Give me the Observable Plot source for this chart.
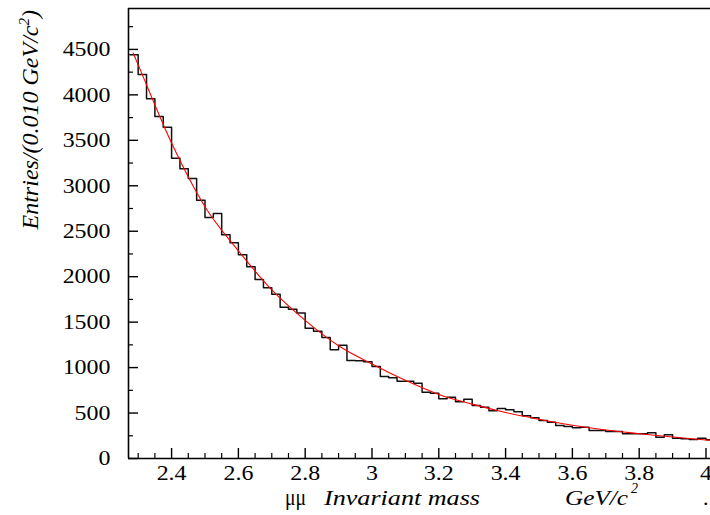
<!DOCTYPE html>
<html><head><meta charset="utf-8">
<script src="https://cdn.jsdelivr.net/npm/d3@7"></script>
<script src="https://cdn.jsdelivr.net/npm/@observablehq/plot@0.6"></script>
<style>
html,body{margin:0;padding:0;background:#fff;overflow:hidden;}
</style></head><body><div id="chart"></div>
<script>
// histogram bin edges (GeV/c^2)
const binEdges = [2.275,2.3,2.325,2.35,2.375,2.4,2.425,2.45,2.475,2.5,2.525,2.55,2.575,2.6,2.625,2.65,2.675,2.7,2.725,2.75,2.775,2.8,2.825,2.85,2.875,2.9,2.925,2.95,2.975,3.0,3.025,3.05,3.075,3.1,3.125,3.15,3.175,3.2,3.225,3.25,3.275,3.3,3.325,3.35,3.375,3.4,3.425,3.45,3.475,3.5,3.525,3.55,3.575,3.6,3.625,3.65,3.675,3.7,3.725,3.75,3.775,3.8,3.825,3.85,3.875,3.9,3.925,3.95,3.975,4.0,4.025];
// entries per bin
const counts = [4440,4224,3957,3762,3645,3304,3187,3080,2842,2651,2695,2462,2372,2240,2108,1969,1877,1808,1665,1643,1600,1434,1401,1330,1195,1247,1078,1074,1063,1012,902,887,851,851,829,730,719,656,675,623,653,583,565,524,550,535,513,470,447,418,400,363,352,337,345,308,308,297,297,271,271,271,282,235,260,224,216,209,224,205];
// fitted curve
const fitX = [2.285,2.3,2.4,2.5,2.6,2.7,2.8,2.9,3.0,3.1,3.2,3.3,3.4,3.5,3.6,3.7,3.8,3.9,4.0,4.0135];
const fitY = [4460,4330,3470,2770,2285,1855,1520,1240,1040,860,705,598,506,432,365,313,273,236,204,200];
// axes
const xDomain = [2.271, 4.0135];
const yDomain = [0, 4950];
const xMajor = [2.4,2.6,2.8,3.0,3.2,3.4,3.6,3.8,4.0];
const xTickLabels = ["2.4","2.6","2.8","3","3.2","3.4","3.6","3.8","4"];
const xMinor = [2.3,2.35,2.45,2.5,2.55,2.65,2.7,2.75,2.85,2.9,2.95,3.05,3.1,3.15,3.25,3.3,3.35,3.45,3.5,3.55,3.65,3.7,3.75,3.85,3.9,3.95];
const yMajor = [0,500,1000,1500,2000,2500,3000,3500,4000,4500];
const yMinor = [250,750,1250,1750,2250,2750,3250,3750,4250,4750];

const histPts = binEdges.slice(0, -1).map((x, i) => ({x, y: counts[i]}))
  .concat([{x: binEdges[binEdges.length - 1], y: counts[counts.length - 1]}]);
const fitData = fitX.map((x, i) => ({x, y: fitY[i]}));

const font = "'Liberation Serif', 'Times New Roman', serif";
const plot = Plot.plot({
  width: 710, height: 515,
  marginLeft: 128, marginRight: 0, marginTop: 8, marginBottom: 57,
  style: {fontFamily: font, background: "white", color: "black"},
  x: {domain: xDomain},
  y: {domain: yDomain},
  marks: [
    Plot.line(histPts, {x: "x", y: "y", curve: "step-after", stroke: "#111", strokeWidth: 1.5, clip: true}),
    Plot.line(fitData, {x: "x", y: "y", curve: "monotone-x", stroke: "#ff0000", strokeWidth: 1.1, clip: true}),
    Plot.ruleY([yDomain[0]], {stroke: "black", strokeWidth: 1.6}),
    Plot.ruleY([yDomain[1]], {stroke: "black", strokeWidth: 1.6}),
    Plot.ruleX([xDomain[0]], {stroke: "black", strokeWidth: 1.6}),
    Plot.axisX({ticks: xMajor, tickSize: -10, fill: "none", strokeWidth: 1.4, label: null}),
    Plot.axisX({ticks: xMinor, tickSize: -5, fill: "none", strokeWidth: 1.2, label: null}),
    Plot.axisY({ticks: yMajor, tickSize: -10, fill: "none", strokeWidth: 1.4, label: null}),
    Plot.axisY({ticks: yMinor, tickSize: -5, fill: "none", strokeWidth: 1.2, label: null}),
    Plot.axisX({ticks: xMajor, tickSize: 0, tickPadding: 7, fontSize: 21, label: null,
      tickFormat: (d) => xTickLabels[xMajor.findIndex((v) => Math.abs(v - d) < 1e-9)]}),
    Plot.axisY({ticks: yMajor, tickSize: 0, tickPadding: 18, fontSize: 21, label: null, tickFormat: (d) => String(d)})
  ]
});
document.getElementById("chart").appendChild(plot);

// widen tick labels like the reference
plot.querySelectorAll('g[aria-label="x-axis tick label"] text, g[aria-label="y-axis tick label"] text').forEach((t) => {
  const tr = t.getAttribute("transform");
  if (tr) t.setAttribute("transform", tr + " scale(1.14,1)");
});

const svg = d3.select(plot);
// y title
const yt = svg.append("text")
  .attr("transform", "translate(38,10) rotate(-90)")
  .attr("text-anchor", "end")
  .attr("font-family", font).attr("font-style", "italic").attr("font-size", 24).attr("fill", "black");
yt.append("tspan").text("Entries/(0.010 GeV/c");
yt.append("tspan").attr("dy", -9).attr("font-size", 15).text("2");
yt.append("tspan").attr("dy", 9).text(")");
// x title
const xt = svg.append("g").attr("font-family", font).attr("fill", "black").attr("text-anchor", "start");
xt.append("text").attr("x", 285).attr("y", 505).attr("font-size", 24).attr("textLength", 21).attr("lengthAdjust", "spacingAndGlyphs").text("μμ");
xt.append("text").attr("x", 324).attr("y", 505).attr("font-size", 22).attr("font-style", "italic")
  .attr("textLength", 156).attr("lengthAdjust", "spacingAndGlyphs").text("Invariant mass");
xt.append("text").attr("x", 565).attr("y", 505).attr("font-size", 22).attr("font-style", "italic")
  .attr("textLength", 63).attr("lengthAdjust", "spacingAndGlyphs").text("GeV/c");
xt.append("text").attr("x", 631).attr("y", 493).attr("font-size", 14).attr("font-style", "italic").text("2");
xt.append("text").attr("x", 703).attr("y", 505).attr("font-size", 22).text(".");
</script></body></html>
